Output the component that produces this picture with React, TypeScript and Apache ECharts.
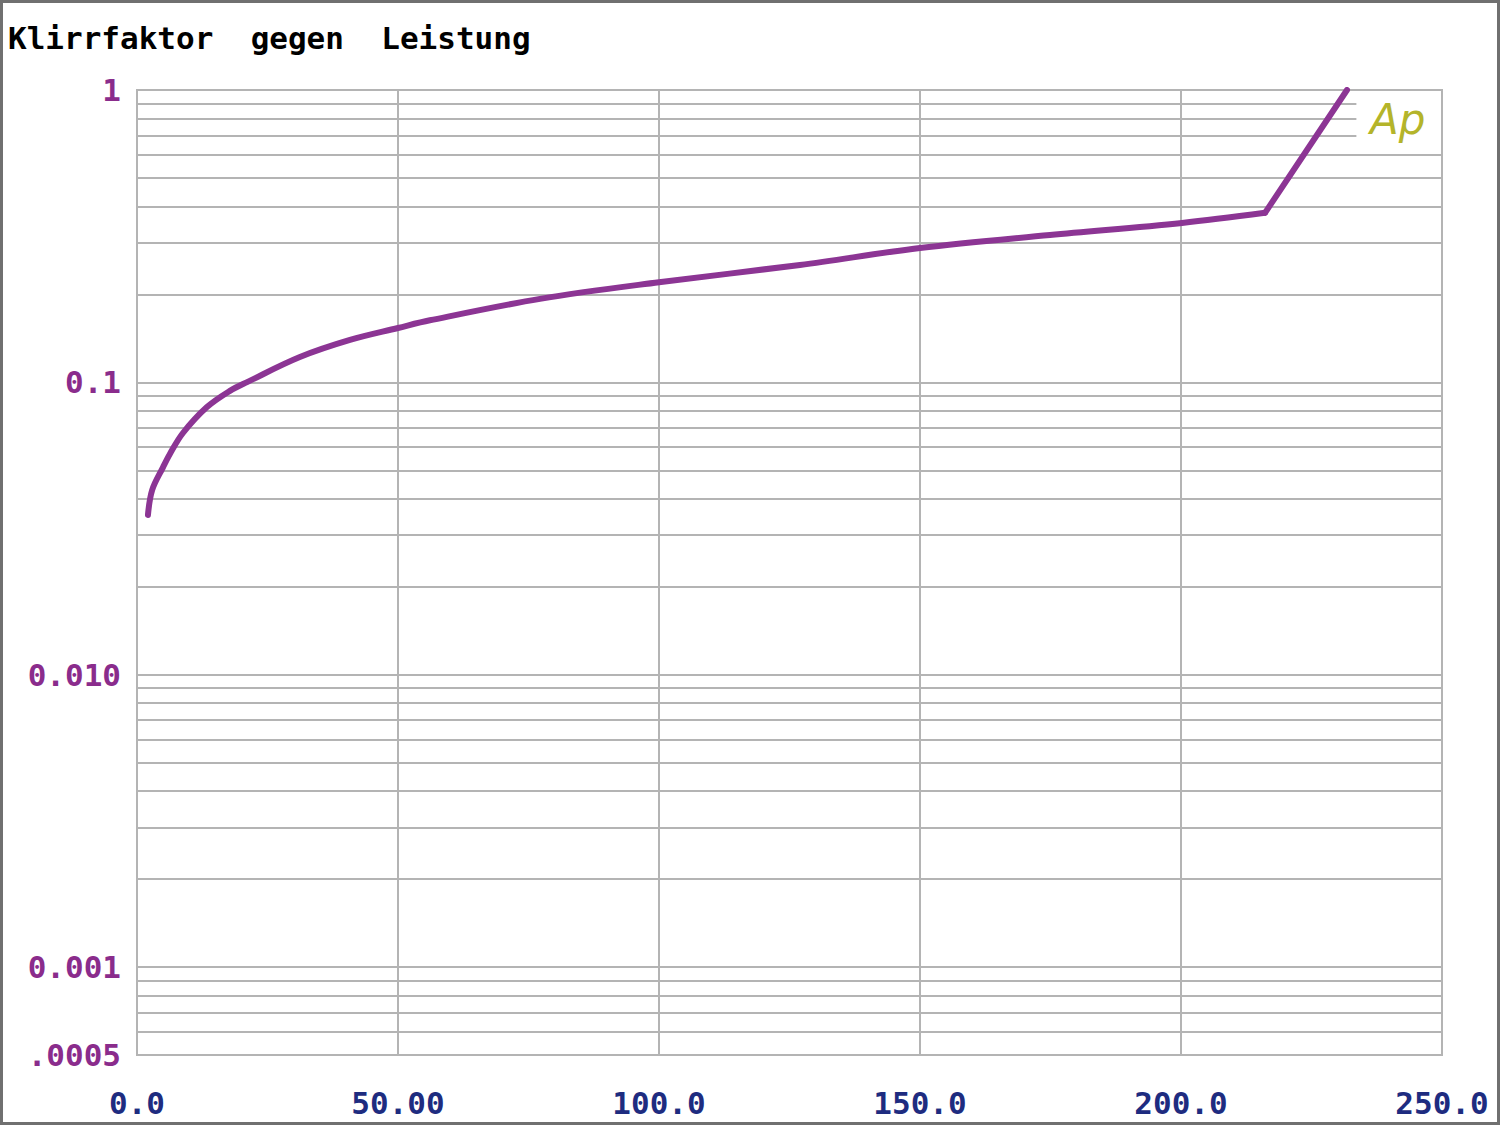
import React, { useEffect, useRef } from "react";
import * as echarts from "echarts";

const TITLE = "Klirrfaktor  gegen  Leistung";
const power = [2.1, 2.9, 5.0, 6.3, 8.8, 13.4, 17.8, 21.1, 31.2, 40.8, 50, 56.1, 77.2, 100, 127, 150, 174.9, 200.2, 216.1];
const thd = [0.0352, 0.0428, 0.0513, 0.0569, 0.0671, 0.0823, 0.0935, 0.1002, 0.122, 0.1396, 0.1534, 0.163, 0.193, 0.22, 0.252, 0.288, 0.319, 0.351, 0.38];
const clipPower = [216.1, 231.8];
const clipThd = [0.38, 1.0];
const xTicks = [0, 50, 100, 150, 200, 250];
const xTickLabels = ["0.0", "50.00", "100.0", "150.0", "200.0", "250.0"];
const yLabelValues = [1, 0.1, 0.01, 0.001, 0.0005];
const yLabelTexts = ["1", "0.1", "0.010", "0.001", ".0005"];
const fullGridValues = [
  0.0006, 0.0007, 0.0008, 0.0009, 0.001,
  0.002, 0.003, 0.004, 0.005, 0.006, 0.007, 0.008, 0.009, 0.01,
  0.02, 0.03, 0.04, 0.05, 0.06, 0.07, 0.08, 0.09, 0.1,
  0.2, 0.3, 0.4, 0.5, 0.6,
];
const shortGridValues = [0.7, 0.8, 0.9];
const shortGridEnd = 233.6;

const FONT = "'DejaVu Sans Mono', 'Liberation Mono', monospace";
const GRID_COLOR = "#b4b4b4";
const Y_LABEL_COLOR = "#8a2c8c";
const X_LABEL_COLOR = "#1e2c80";
const LINE_COLOR = "#8c3594";

export default function App() {
  const ref = useRef<HTMLDivElement>(null);
  useEffect(() => {
    document.body.style.margin = "0";
    const chart = echarts.init(ref.current!, null, { renderer: "svg" });
    const gridLines: any[] = [];
    fullGridValues.forEach((v) => {
      gridLines.push([{ coord: [0, v] }, { coord: [250, v] }]);
    });
    shortGridValues.forEach((v) => {
      gridLines.push([{ coord: [0, v] }, { coord: [shortGridEnd, v] }]);
    });
    yLabelValues.forEach((v, i) => {
      gridLines.push([
        {
          coord: [0, v],
          label: {
            show: true,
            position: "start",
            distance: 16,
            formatter: yLabelTexts[i],
            color: Y_LABEL_COLOR,
            fontFamily: FONT,
            fontWeight: "bold",
            fontSize: 31,
          },
        },
        { coord: [250, v] },
      ]);
    });
    chart.setOption({
      animation: false,
      backgroundColor: "#ffffff",
      title: {
        text: TITLE,
        left: 8,
        top: 22,
        padding: 0,
        textStyle: { color: "#000", fontFamily: FONT, fontWeight: "bold", fontSize: 31 },
      },
      graphic: [
        {
          type: "rect",
          shape: { x: 1.5, y: 1.5, width: 1497, height: 1122 },
          style: { fill: "none", stroke: "#707070", lineWidth: 3 },
          silent: true,
        },
        {
          type: "text",
          left: 1370,
          top: 98,
          style: {
            text: "Ap",
            fill: "#b4b42a",
            font: "italic 42px 'DejaVu Sans', sans-serif",
          },
          silent: true,
        },
      ],
      grid: {
        left: 137,
        top: 90,
        right: 58,
        bottom: 70,
        show: true,
        borderColor: GRID_COLOR,
        borderWidth: 2,
        backgroundColor: "#fff",
      },
      xAxis: {
        type: "value",
        min: 0,
        max: 250,
        interval: 50,
        axisLine: { show: false },
        axisTick: { show: false },
        splitLine: { show: true, lineStyle: { color: GRID_COLOR, width: 2 } },
        axisLabel: {
          margin: 32,
          color: X_LABEL_COLOR,
          fontFamily: FONT,
          fontWeight: "bold",
          fontSize: 31,
          formatter: (v: number) => {
            const i = xTicks.indexOf(v);
            return i >= 0 ? xTickLabels[i] : "";
          },
        },
      },
      yAxis: {
        type: "log",
        logBase: 10,
        min: 0.0005,
        max: 1,
        axisLine: { show: false },
        axisTick: { show: false },
        axisLabel: { show: false },
        splitLine: { show: false },
      },
      series: [
        {
          type: "line",
          data: [],
          clip: false,
          z: 1,
          markLine: {
            silent: true,
            z: 1,
            symbol: ["none", "none"],
            lineStyle: { color: GRID_COLOR, width: 2, type: "solid" },
            label: { show: false },
            emphasis: { disabled: true },
            data: gridLines,
          },
        },
        {
          type: "line",
          z: 5,
          data: power.map((p, i) => [p, thd[i]]),
          showSymbol: false,
          symbol: "none",
          smooth: 0.35,
          lineStyle: { color: LINE_COLOR, width: 6, cap: "round", join: "round" },
        },
        {
          type: "line",
          z: 5,
          data: clipPower.map((p, i) => [p, clipThd[i]]),
          showSymbol: false,
          symbol: "none",
          lineStyle: { color: LINE_COLOR, width: 6, cap: "round", join: "round" },
        },
      ],
    });
    return () => chart.dispose();
  }, []);
  return <div ref={ref} style={{ width: 1500, height: 1125 }} />;
}
